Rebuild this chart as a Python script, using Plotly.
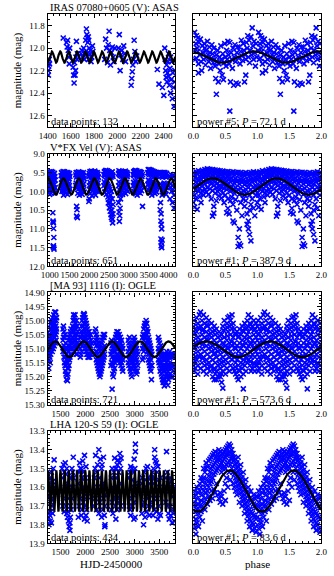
import numpy as np
import plotly.graph_objects as go

# ---------------- chart values ----------------
star_names = ["IRAS 07080+0605 (V): ASAS", "V*FX Vel (V): ASAS",
              "[MA 93] 1116 (I): OGLE", "LHA 120-S 59 (I): OGLE"]
n_points = [132, 651, 721, 434]
power_rank = [5, 1, 1, 1]
periods = [72.1, 387.9, 573.6, 83.6]
# fitted sine model: mean, semi-amplitude, phase of faintest point, epoch of phase 0
fit_mean = [12.08, 9.87, 15.102, 13.62]
fit_amp = [0.05, 0.22, 0.028, 0.11]
fit_phase_faint = [0.45, 0.80, 0.70, 0.07]
fit_epoch = [1367.6, 843.6, 1276.0, 1200.0]

time_ranges = [[1400, 2500], [950, 4170], [1240, 3820], [1240, 3820]]
mag_ranges = [[12.7, 11.7], [12.0, 9.0], [15.30, 14.90], [13.9, 13.3]]
time_dtick = [200, 500, 500, 500]
time_minor = [50, 100, 100, 100]
mag_tick0 = [11.8, 9.0, 14.9, 13.3]
mag_dtick = [0.2, 0.5, 0.05, 0.1]
mag_minor = [0.05, 0.1, 0.01, 0.02]
mag_format = [".1f", ".1f", ".2f", ".1f"]

# ---- IRAS 07080+0605: time series (HJD-2450000, mag) ----
iras_time = [
    (1401, [12.12]), (1403, [12.2]), (1406, [12.24]), (1409, [12.16]), (1413, [12.1]), (1416, [12.14]),
    (1534, [11.91]),
    (1562, [11.95]), (1568, [11.99]), (1572, [11.93]), (1578, [12.02]), (1582, [12.08]), (1586, [12.14]), (1590, [12.0]),
    (1620, [12.17]), (1624, [12.24]), (1628, [12.31]), (1632, [12.13]), (1636, [12.24]), (1640, [12.2]),
    (1644, [12.08]), (1648, [11.94]), (1652, [12.1]), (1656, [12.05]),
    (1688, [12.05]), (1695, [12.02]), (1702, [12.08]), (1710, [12.0]), (1716, [12.1]), (1722, [12.04]),
    (1728, [11.93, 12.06]), (1734, [11.83]), (1738, [11.88]), (1742, [11.91, 12.05]), (1746, [11.95]),
    (1750, [11.9]), (1754, [11.93, 12.1]), (1758, [12.0]), (1762, [12.05]), (1768, [12.02]), (1774, [12.12]),
    (1780, [12.08]), (1786, [11.98]), (1790, [12.03]),
    (1892, [12.1]), (1900, [11.92]), (1908, [12.0]), (1916, [12.13]), (1922, [11.97]), (1930, [11.85]),
    (1936, [12.02]), (1942, [12.15]), (1950, [12.04]), (1958, [11.99]), (1965, [12.08]), (1972, [12.12]), (1980, [12.0]),
    (2010, [12.0]), (2018, [11.88]), (2025, [12.2]), (2032, [12.06]), (2040, [12.02]), (2048, [12.1]),
    (2056, [11.98]), (2064, [12.05]), (2072, [12.12]),
    (2120, [12.33]), (2125, [12.27]), (2130, [12.21]), (2135, [12.15]), (2140, [12.1]), (2146, [11.93]),
    (2152, [12.03]), (2160, [12.12]), (2168, [12.07]),
    (2346, [12.19]), (2360, [12.32]), (2390, [12.35]), (2402, [12.42]),
    (2410, [12.0]), (2414, [12.1]), (2418, [12.2]), (2422, [12.26]), (2426, [12.15]), (2430, [12.3]),
    (2434, [12.22]), (2438, [12.12]), (2442, [12.05]), (2446, [12.25]), (2450, [12.33]), (2455, [12.18]),
    (2460, [12.4, 12.08]), (2465, [12.28]), (2470, [12.12]), (2475, [12.45]), (2480, [12.22]), (2485, [12.35]),
    (2490, [12.52]), (2494, [12.3]), (2497, [12.2]),
]
# ---- IRAS 07080+0605: folded (phase 0..1, mag) ----
iras_phase = [
    (0.01, [12.02]), (0.02, [11.86]), (0.03, [12.1]), (0.04, [11.96]), (0.05, [11.89, 12.09]), (0.06, [12.0]),
    (0.07, [11.91, 12.03]), (0.08, [12.14, 12.22]), (0.09, [11.95]), (0.1, [12.06]), (0.11, [11.92]),
    (0.12, [12.12]), (0.13, [12.2]), (0.14, [11.98]), (0.15, [12.04]), (0.16, [12.1]), (0.17, [11.96]),
    (0.18, [12.0]), (0.19, [12.15]), (0.2, [12.02]), (0.21, [12.08]), (0.22, [11.94]), (0.23, [12.06]),
    (0.24, [12.12]), (0.25, [11.99]), (0.26, [12.04]), (0.27, [12.18]), (0.28, [12.09]), (0.29, [11.97]),
    (0.3, [12.05]), (0.31, [12.13]), (0.32, [12.0]), (0.33, [12.1]), (0.34, [12.16]), (0.35, [12.27]),
    (0.36, [12.41, 12.06]), (0.37, [12.12]), (0.38, [12.02]), (0.39, [12.3]), (0.4, [12.14]), (0.41, [12.08]),
    (0.42, [12.2]), (0.43, [11.98]), (0.44, [12.1]), (0.45, [12.24]), (0.46, [12.05]), (0.47, [12.28]),
    (0.48, [12.13]), (0.49, [11.96]), (0.5, [12.08]), (0.51, [12.16]), (0.52, [12.02]), (0.53, [12.1]),
    (0.54, [11.94]), (0.55, [12.06]), (0.56, [12.14]), (0.57, [12.56, 11.95]), (0.58, [12.3]), (0.59, [12.04]),
    (0.6, [12.1]), (0.61, [12.18]), (0.62, [12.0]), (0.63, [12.33]), (0.64, [12.08]), (0.65, [11.97]),
    (0.66, [12.12]), (0.67, [12.31]), (0.68, [12.04]), (0.69, [11.99]), (0.7, [12.32]), (0.71, [12.09]),
    (0.72, [11.99]), (0.73, [12.14]), (0.74, [12.03]), (0.75, [11.93]), (0.76, [12.07]), (0.77, [12.11]),
    (0.78, [11.96]), (0.79, [12.02]), (0.8, [12.3]), (0.81, [12.06]), (0.82, [12.24, 12.1]), (0.83, [11.95]),
    (0.84, [12.0]), (0.85, [11.89]), (0.86, [12.08]), (0.87, [11.93]), (0.88, [12.13]), (0.89, [12.02]),
    (0.9, [11.9]), (0.91, [12.06]), (0.92, [11.82]), (0.93, [11.98]), (0.94, [12.1]), (0.95, [11.94]),
    (0.96, [12.04]), (0.97, [12.16]), (0.98, [11.96]), (0.99, [12.08]),
]

# ---- V* FX Vel: time series ----
fxvel_time = [
    (960, [9.55, 9.9]), (970, [9.72, 10.02]), (980, [9.5, 9.8]), (990, [9.62, 9.95]), (1000, [9.48, 9.75, 10.08]),
    (1010, [9.66, 9.88]), (1020, [9.52, 9.8]), (1030, [9.6, 9.93]), (1040, [9.47, 9.7, 10.05]), (1050, [9.58, 9.85]),
    (1060, [9.5, 9.76]), (1070, [9.64, 9.98]), (1080, [9.49, 9.72, 10.57]), (1085, [10.79, 10.82]),
    (1090, [9.6, 9.9, 11.47]), (1095, [10.84, 11.45]), (1100, [9.55, 10.99, 11.5]), (1105, [11.23]),
    (1110, [9.68, 9.96, 11.54]), (1120, [9.52, 9.82]), (1130, [9.6, 10.04]), (1140, [9.7, 9.9]),
    (1290, [9.58, 9.88]), (1300, [9.5, 9.78]), (1310, [9.66, 10.0]), (1320, [9.52, 9.84]), (1330, [9.6, 9.95]),
    (1340, [9.47, 9.72]), (1350, [9.56, 9.9, 10.1]), (1360, [9.5, 9.8]), (1370, [9.62, 9.98]), (1380, [9.48, 9.75]),
    (1390, [9.58, 9.86]), (1400, [9.53, 9.7, 10.05]), (1410, [9.6, 9.92]), (1420, [9.5, 9.78]), (1430, [9.64, 9.96]),
    (1440, [9.52, 9.82]), (1450, [9.58, 10.08]), (1460, [9.5, 9.74]), (1470, [9.62, 9.9]), (1480, [9.55, 9.8]),
    (1490, [9.66, 10.0]), (1500, [9.52, 9.85]), (1510, [9.6, 9.94]),
    (1660, [9.56, 9.84]), (1670, [9.5, 9.78]), (1680, [9.62, 10.4, 10.66]), (1690, [9.5, 9.9, 10.49]),
    (1700, [9.58, 10.7]), (1710, [9.52, 9.82, 10.05]), (1720, [9.6, 9.95]), (1730, [9.48, 9.76]), (1740, [9.56, 9.88]),
    (1750, [9.5, 10.1]), (1760, [9.62, 9.8]), (1770, [9.54, 9.92]), (1780, [9.6, 9.75]), (1790, [9.5, 10.0]),
    (1800, [9.58, 9.86]), (1810, [9.52, 9.78]), (1820, [9.64, 10.08]), (1830, [9.55, 9.9]), (1840, [9.6, 9.82]),
    (1850, [9.5, 9.96]), (1860, [9.58, 9.8]), (1870, [9.66, 10.02]),
    (1990, [9.6, 10.27]), (2000, [9.52, 9.85, 10.2]), (2010, [9.58, 9.95]), (2020, [9.47, 9.76]), (2030, [9.55, 10.05]),
    (2040, [9.5, 9.82]), (2050, [9.6, 9.94]), (2060, [9.46, 9.72]), (2070, [9.55, 10.12]), (2080, [9.5, 9.8]),
    (2090, [9.62, 9.98]), (2100, [9.48, 9.74]), (2110, [9.56, 9.9]), (2120, [9.5, 10.04]), (2130, [9.6, 9.84]),
    (2140, [9.46, 9.76]), (2150, [9.55, 9.96]), (2160, [9.5, 10.1]), (2170, [9.62, 9.8]), (2180, [9.52, 9.92]),
    (2190, [9.58, 9.74]), (2200, [9.5, 10.0]), (2210, [9.6, 9.86]), (2220, [9.54, 9.78]), (2230, [9.62, 9.98]),
    (2370, [9.55, 9.85]), (2380, [9.48, 9.75]), (2390, [9.58, 10.02]), (2400, [9.46, 9.8]), (2410, [9.55, 9.92]),
    (2420, [9.44, 9.7]), (2430, [9.52, 10.08]), (2440, [9.47, 9.78]), (2450, [9.56, 9.95]), (2460, [9.45, 9.82]),
    (2470, [9.6, 10.15]), (2480, [9.5, 9.86, 10.31]), (2490, [9.56, 10.05]), (2500, [9.48, 9.9, 10.2]),
    (2510, [9.58, 10.44]), (2520, [9.5, 9.95, 10.3]), (2530, [9.6, 10.53]), (2540, [9.52, 10.1, 10.4]),
    (2550, [9.62, 10.62]), (2560, [9.5, 10.0, 10.7]), (2570, [9.58, 10.5]), (2580, [9.48, 10.75, 10.2]),
    (2590, [9.56, 10.84]), (2600, [9.6, 10.6, 10.35]),
    (2740, [9.52, 9.85, 10.3]), (2750, [9.45, 9.75, 10.55]), (2760, [9.55, 9.95, 10.8]), (2770, [9.5, 10.1, 10.65]),
    (2780, [9.58, 9.8, 10.45]), (2790, [9.47, 9.9, 10.2]), (2800, [9.56, 10.05]), (2810, [9.5, 9.78]),
    (2820, [9.6, 9.96]), (2830, [9.48, 9.85]), (2840, [9.55, 10.08]), (2850, [9.5, 9.76]), (2860, [9.62, 9.92]),
    (2870, [9.48, 9.82]), (2880, [9.56, 10.02]), (2890, [9.5, 9.74]), (2900, [9.6, 9.9]), (2910, [9.46, 9.8]),
    (2920, [9.55, 10.06]), (2930, [9.5, 9.86]), (2940, [9.58, 9.76]), (2950, [9.5, 9.96]), (2960, [9.6, 9.84]),
    (2970, [9.54, 10.0]),
    (3110, [9.55, 9.85]), (3120, [9.48, 9.76]), (3130, [9.58, 10.0]), (3140, [9.46, 9.8]), (3150, [9.55, 9.94]),
    (3160, [9.44, 9.72]), (3170, [9.52, 10.06]), (3180, [9.47, 9.78]), (3190, [9.56, 9.9]), (3200, [9.45, 9.82]),
    (3210, [9.6, 10.1]), (3220, [9.5, 9.86]), (3230, [9.56, 9.96]), (3240, [9.48, 9.75]), (3250, [9.58, 10.02]),
    (3260, [9.5, 9.84]), (3270, [9.6, 9.92]), (3280, [9.47, 9.78]), (3290, [9.55, 10.05]), (3300, [9.5, 9.88]),
    (3310, [9.58, 9.76]), (3320, [9.5, 9.98]), (3330, [9.6, 9.85]), (3345, [9.55, 10.4]),
    (3480, [9.5, 9.82]), (3490, [9.42, 9.7]), (3500, [9.52, 9.96]), (3510, [9.44, 9.78]), (3520, [9.55, 9.9]),
    (3530, [9.42, 9.72]), (3540, [9.5, 10.04]), (3550, [9.45, 9.8]), (3560, [9.56, 9.92]), (3570, [9.44, 9.76]),
    (3580, [9.52, 10.1]), (3590, [9.48, 9.84]), (3600, [9.58, 9.95]), (3610, [9.46, 9.74]), (3620, [9.54, 10.0]),
    (3630, [9.5, 9.82]), (3640, [9.6, 9.9]), (3650, [9.48, 9.78]), (3660, [9.55, 10.06]), (3670, [9.5, 9.86]),
    (3680, [9.6, 9.96]), (3690, [9.52, 9.8]), (3700, [9.58, 10.02]), (3710, [9.5, 9.88]),
    (3790, [9.55, 9.9, 10.49]), (3800, [9.5, 9.8, 10.3]), (3810, [9.6, 10.79, 11.27]), (3815, [10.6, 11.45]),
    (3820, [9.52, 10.88, 11.36]), (3830, [9.58, 11.0, 11.5]), (3840, [9.5, 10.1, 11.3]), (3850, [9.62, 9.95]),
    (3860, [9.55, 9.85]), (3870, [9.5, 10.05]), (3880, [9.6, 9.9]), (3890, [9.52, 9.78]), (3900, [9.58, 10.0]),
    (3910, [9.5, 9.84]), (3920, [9.6, 9.96]), (3930, [9.55, 9.8]), (3940, [9.62, 10.08]), (3950, [9.52, 9.88]),
    (4040, [9.6, 9.9, 10.2]), (4060, [9.55, 9.8]), (4080, [9.65, 10.0]), (4100, [9.58, 9.85, 10.3]),
    (4120, [9.6, 9.95]), (4140, [9.7, 10.1, 10.45]),
]
fxvel_phase = [
    (0.00, [9.5, 9.7, 9.9, 10.05, 10.3]), (0.02, [9.55, 9.62, 9.85, 10.1, 10.42]), (0.04, [9.48, 9.75, 9.95, 10.2]),
    (0.06, [9.52, 9.66, 9.88, 10.48]), (0.08, [9.45, 9.7, 9.8, 10.0]), (0.10, [9.5, 9.6, 9.92, 10.15]),
    (0.12, [9.47, 9.68, 9.78, 10.05, 10.3]), (0.14, [9.44, 9.58, 9.85, 9.98]), (0.16, [9.49, 9.63, 9.74, 10.1]),
    (0.18, [9.42, 9.55, 9.8, 9.95]), (0.20, [9.46, 9.6, 9.7, 10.02]), (0.22, [9.4, 9.52, 9.76, 9.9]),
    (0.24, [9.44, 9.58, 9.68, 10.08]), (0.26, [9.41, 9.5, 9.72, 9.93]), (0.28, [9.45, 9.62, 9.8, 10.2]),
    (0.30, [9.42, 9.55, 9.7, 9.98, 10.66]), (0.32, [9.46, 9.6, 9.85, 10.58, 10.4]), (0.34, [9.43, 9.52, 9.75, 10.05]),
    (0.36, [9.47, 9.65, 9.9, 10.25]), (0.38, [9.44, 9.58, 9.78, 10.0]), (0.40, [9.48, 9.62, 9.86, 10.12]),
    (0.42, [9.45, 9.55, 9.72, 9.95]), (0.44, [9.5, 9.66, 9.88, 10.18]), (0.46, [9.46, 9.6, 9.8, 10.05]),
    (0.48, [9.52, 9.7, 9.92, 10.3]), (0.50, [9.48, 9.63, 9.85, 10.1]), (0.52, [9.5, 9.72, 9.95, 10.57]),
    (0.54, [9.47, 9.6, 9.82, 10.2, 10.45]), (0.56, [9.53, 9.68, 9.9, 10.6]), (0.58, [9.49, 9.75, 10.0, 10.25]),
    (0.60, [9.52, 9.65, 9.88, 10.15]), (0.62, [9.48, 9.7, 9.96, 10.79, 10.35]), (0.64, [9.55, 9.78, 10.05, 10.84]),
    (0.66, [9.5, 9.66, 9.9, 10.22]), (0.68, [9.53, 9.74, 10.0, 10.5]), (0.70, [9.49, 9.7, 9.95, 11.23, 11.47]),
    (0.72, [9.55, 9.8, 10.08, 11.4, 11.0]), (0.74, [9.5, 9.68, 9.92, 11.45, 10.3]), (0.76, [9.56, 9.76, 10.05, 10.65]),
    (0.78, [9.52, 9.7, 9.98, 10.2]), (0.80, [9.58, 9.82, 10.1, 10.4]), (0.82, [9.5, 9.72, 9.95, 10.25]),
    (0.84, [9.55, 9.78, 10.05, 10.88, 10.6]), (0.86, [9.52, 9.7, 9.9, 10.79, 11.0]),
    (0.88, [9.57, 9.8, 10.1, 11.15, 10.5]), (0.90, [9.5, 9.68, 9.95, 10.35, 11.32]), (0.92, [9.54, 9.75, 10.02, 10.2]),
    (0.94, [9.48, 9.66, 9.88, 10.45]), (0.96, [9.53, 9.72, 9.95, 10.65]), (0.98, [9.5, 9.64, 9.86, 10.1]),
]

# ---- [MA 93] 1116: time series ----
ma93_time = [
    (1262, [15.17, 15.12, 15.08]), (1272, [15.14, 15.1, 15.05]), (1282, [15.11, 15.07, 15.13]), (1292, [15.05, 15.09, 15.15]),
    (1302, [15.03, 15.08, 15.12]), (1312, [15.06, 15.1, 15.01]), (1322, [15.0, 15.04, 15.09]), (1332, [15.02, 15.07, 15.11]),
    (1342, [14.99, 15.03, 15.08]), (1352, [15.01, 15.05, 15.1]), (1362, [14.98, 15.02, 15.06]), (1372, [15.0, 15.04, 15.09]),
    (1382, [14.97, 15.01, 15.06]), (1392, [14.99, 15.03, 15.08]), (1402, [14.97, 15.02, 15.05]), (1412, [15.0, 15.04, 15.07]),
    (1420, [14.99, 15.03]),
    (1550, [15.03, 15.07, 15.11]), (1560, [15.02, 15.06, 15.1]), (1570, [15.04, 15.09, 15.13]), (1580, [15.06, 15.1, 15.15]),
    (1590, [15.05, 15.11, 15.16]), (1600, [15.08, 15.13, 15.18]), (1610, [15.1, 15.15, 15.19]), (1620, [15.12, 15.16, 15.21]),
    (1630, [15.1, 15.14, 15.196]), (1640, [15.13, 15.17, 15.214]), (1650, [15.11, 15.15, 15.19]), (1660, [15.09, 15.13, 15.17]),
    (1670, [15.07, 15.11, 15.16]), (1680, [15.06, 15.1, 15.14]), (1690, [15.05, 15.09, 15.13]), (1700, [15.04, 15.08, 15.12]),
    (1712, [15.03, 15.07, 15.1]),
    (1745, [15.02, 15.06, 15.1]), (1755, [15.0, 15.04, 15.08]), (1765, [14.98, 15.03, 15.07]), (1775, [14.99, 15.04, 15.09]),
    (1785, [15.0, 15.05, 15.11]), (1795, [14.98, 15.02, 15.07]), (1805, [15.01, 15.06, 15.1]), (1815, [15.03, 15.07, 15.12]),
    (1825, [15.0, 15.05, 15.09]), (1835, [15.02, 15.08, 15.12]), (1845, [15.04, 15.09]),
    (1900, [15.06, 15.1, 15.13]), (1912, [15.04, 15.08, 15.12]), (1924, [15.02, 15.06, 15.11]), (1936, [15.0, 15.05, 15.09]),
    (1948, [14.99, 15.04, 15.08]), (1960, [14.98, 15.02, 15.07]), (1972, [14.975, 15.01, 15.06]), (1984, [14.98, 15.03, 15.07]),
    (1996, [14.99, 15.04, 15.09]), (2008, [15.0, 15.05, 15.1]), (2020, [15.01, 15.06, 15.11]), (2032, [15.02, 15.07, 15.12]),
    (2044, [15.03, 15.08, 15.12]), (2056, [15.04, 15.09, 15.13]), (2068, [15.05, 15.1, 15.13]), (2080, [15.04, 15.08, 15.12]),
    (2092, [15.06, 15.1, 15.13]), (2104, [15.05, 15.09, 15.12]), (2116, [15.07, 15.11]), (2128, [15.08, 15.12]),
    (2200, [15.04, 15.08, 15.12]), (2212, [15.03, 15.07, 15.11]), (2224, [15.05, 15.09, 15.14]), (2236, [15.06, 15.11, 15.15]),
    (2248, [15.07, 15.12, 15.16]), (2260, [15.08, 15.13, 15.17]), (2272, [15.09, 15.14, 15.18]), (2284, [15.1, 15.15, 15.19]),
    (2296, [15.11, 15.16, 15.2]), (2308, [15.1, 15.15, 15.19]), (2320, [15.09, 15.14, 15.18]), (2332, [15.08, 15.13, 15.17]),
    (2344, [15.07, 15.12, 15.16]), (2356, [15.06, 15.11, 15.15]), (2368, [15.05, 15.1, 15.14]), (2380, [15.06, 15.1, 15.13]),
    (2392, [15.05, 15.09, 15.12]),
    (2520, [15.08, 15.12, 15.16]), (2532, [15.07, 15.11, 15.15]), (2544, [15.09, 15.13, 15.244]), (2556, [15.1, 15.15, 15.19]),
    (2568, [15.11, 15.16, 15.2]), (2580, [15.1, 15.14, 15.18]), (2592, [15.09, 15.13, 15.17]), (2604, [15.07, 15.11, 15.15]),
    (2616, [15.06, 15.1, 15.14]), (2628, [15.05, 15.09, 15.13]), (2640, [15.04, 15.08, 15.12]), (2652, [15.05, 15.09, 15.13]),
    (2664, [15.04, 15.08, 15.12]), (2676, [15.06, 15.1, 15.14]), (2688, [15.05, 15.09, 15.13]), (2700, [15.07, 15.11, 15.15]),
    (2712, [15.06, 15.1, 15.14]), (2724, [15.08, 15.12, 15.16]), (2736, [15.07, 15.11, 15.15]), (2748, [15.09, 15.13, 15.17]),
    (2760, [15.1, 15.14, 15.18]),
    (2870, [15.07, 15.11, 15.15]), (2882, [15.08, 15.12, 15.16]), (2894, [15.06, 15.1, 15.14]), (2906, [15.09, 15.13, 15.17]),
    (2918, [15.1, 15.14, 15.18]), (2930, [15.11, 15.15, 15.19]), (2942, [15.1, 15.14, 15.2]), (2954, [15.09, 15.13, 15.17]),
    (2966, [15.08, 15.12, 15.16]), (2978, [15.07, 15.11, 15.15]), (2990, [15.06, 15.1, 15.14]), (3002, [15.07, 15.11, 15.16]),
    (3014, [15.08, 15.12, 15.17]), (3026, [15.09, 15.13, 15.18]), (3038, [15.1, 15.14, 15.19]), (3050, [15.11, 15.15, 15.18]),
    (3060, [15.12, 15.16]),
    (3160, [15.06, 15.1, 15.14]), (3172, [15.05, 15.09, 15.13]), (3184, [15.03, 15.07, 15.11]), (3196, [15.02, 15.06, 15.1]),
    (3208, [15.01, 15.05, 15.09]), (3220, [15.02, 15.06, 15.1]), (3232, [15.0, 15.04, 15.08]), (3244, [15.01, 15.05, 15.09]),
    (3256, [15.03, 15.07, 15.11]), (3268, [15.04, 15.08, 15.12]), (3280, [15.06, 15.1, 15.14]), (3292, [15.07, 15.11, 15.15]),
    (3304, [15.08, 15.12, 15.16]), (3316, [15.09, 15.13, 15.17]), (3328, [15.1, 15.14, 15.18]), (3340, [15.11, 15.16, 15.21]),
    (3350, [15.12, 15.16]),
    (3480, [15.06, 15.1, 15.14]), (3492, [15.07, 15.11, 15.15]), (3504, [15.08, 15.12, 15.16]), (3516, [15.1, 15.14, 15.18]),
    (3528, [15.09, 15.13, 15.17]), (3540, [15.11, 15.15, 15.19]), (3552, [15.12, 15.16, 15.2]), (3564, [15.13, 15.17, 15.21]),
    (3576, [15.14, 15.18, 15.22]), (3588, [15.12, 15.16, 15.214]), (3600, [15.13, 15.17, 15.232]), (3612, [15.14, 15.18, 15.21]),
    (3624, [15.12, 15.16, 15.2]), (3636, [15.13, 15.17, 15.22]), (3648, [15.11, 15.15, 15.19]), (3660, [15.12, 15.16, 15.2]),
    (3672, [15.14, 15.18, 15.23]), (3684, [15.13, 15.17, 15.21]), (3696, [15.12, 15.16, 15.2]), (3708, [15.11, 15.15, 15.19]),
    (3720, [15.12, 15.16, 15.2]), (3740, [15.13, 15.17]), (3760, [15.12, 15.16, 15.2]), (3780, [15.13, 15.18]),
    (3800, [15.12, 15.16]),
]
ma93_phase = [
    (0.00, [15.02, 15.07, 15.12, 15.16]), (0.013, [15.0, 15.05, 15.1, 15.15, 15.18]), (0.031, [15.03, 15.08, 15.13, 15.17]),
    (0.052, [14.99, 15.04, 15.09, 15.14]), (0.07, [15.01, 15.06, 15.11, 15.16, 15.19]), (0.094, [14.98, 15.03, 15.08, 15.13]),
    (0.112, [14.97, 15.02, 15.07, 15.12, 15.17]), (0.135, [15.0, 15.05, 15.1, 15.15]), (0.158, [14.98, 15.03, 15.08, 15.13, 15.18]),
    (0.176, [15.01, 15.06, 15.11, 15.16]), (0.203, [14.99, 15.04, 15.09, 15.14, 15.19]), (0.219, [15.02, 15.07, 15.12, 15.17]),
    (0.241, [15.0, 15.05, 15.1, 15.15]), (0.262, [15.03, 15.08, 15.13, 15.18]), (0.284, [15.01, 15.06, 15.11, 15.16]),
    (0.302, [15.04, 15.09, 15.14, 15.2]), (0.327, [15.02, 15.07, 15.12, 15.17, 15.21]), (0.343, [15.05, 15.1, 15.15, 15.19]),
    (0.361, [15.03, 15.08, 15.13, 15.18, 15.21]), (0.385, [15.06, 15.11, 15.16, 15.2]), (0.404, [15.04, 15.09, 15.14, 15.19]),
    (0.423, [15.07, 15.12, 15.17, 15.2]), (0.442, [15.05, 15.1, 15.15, 15.19, 15.22]), (0.461, [15.02, 15.08, 15.13, 15.18, 15.24]),
    (0.483, [15.0, 15.06, 15.11, 15.16]), (0.502, [15.03, 15.09, 15.14, 15.19]), (0.524, [15.01, 15.07, 15.12, 15.17]),
    (0.541, [14.99, 15.04, 15.1, 15.15]), (0.563, [14.985, 15.02, 15.08, 15.13, 15.18]), (0.582, [15.0, 15.05, 15.11, 15.16]),
    (0.604, [14.98, 15.03, 15.09, 15.14]), (0.622, [15.01, 15.06, 15.12, 15.17]), (0.643, [15.03, 15.08, 15.13, 15.18]),
    (0.661, [15.05, 15.1, 15.15, 15.19]), (0.684, [15.04, 15.09, 15.14, 15.2]), (0.702, [15.06, 15.11, 15.16, 15.21]),
    (0.721, [15.03, 15.08, 15.13, 15.18]), (0.743, [15.05, 15.1, 15.15, 15.2]), (0.762, [15.02, 15.07, 15.12, 15.17]),
    (0.781, [15.04, 15.09, 15.14, 15.19, 15.243]), (0.804, [15.01, 15.06, 15.11, 15.16]), (0.823, [15.03, 15.08, 15.13, 15.18]),
    (0.842, [15.0, 15.05, 15.1, 15.15]), (0.861, [14.98, 15.04, 15.09, 15.14]), (0.883, [15.01, 15.06, 15.11, 15.16]),
    (0.902, [14.99, 15.03, 15.08, 15.13, 15.18]), (0.921, [15.02, 15.07, 15.12, 15.17]), (0.944, [15.0, 15.05, 15.1, 15.15]),
    (0.962, [15.03, 15.08, 15.13, 15.18]), (0.981, [15.01, 15.06, 15.11, 15.16]),
    (0.025, [15.045, 15.095, 15.145]), (0.083, [15.025, 15.075, 15.125]), (0.147, [15.035, 15.085, 15.135]),
    (0.211, [15.015, 15.065, 15.155]), (0.273, [15.045, 15.095, 15.165]), (0.335, [15.035, 15.115, 15.175]),
    (0.414, [15.055, 15.105, 15.155]), (0.472, [15.035, 15.085, 15.145]), (0.533, [15.025, 15.055, 15.095]),
    (0.593, [15.015, 15.075, 15.125]), (0.653, [15.045, 15.095, 15.165]), (0.712, [15.055, 15.125, 15.175]),
    (0.772, [15.035, 15.085, 15.155]), (0.832, [15.025, 15.065, 15.135]), (0.894, [15.015, 15.085, 15.145]),
    (0.953, [15.035, 15.095, 15.155]),
]

# ---- LHA 120-S 59: time series ----
lha_time = [
    (1255, [13.62, 13.76]), (1265, [13.58, 13.8]), (1275, [13.65, 13.73]), (1285, [13.55, 13.75]), (1295, [13.6, 13.78]),
    (1305, [13.68, 13.73]), (1315, [13.52, 13.79]), (1325, [13.63, 13.7]), (1340, [13.57, 13.74]), (1355, [13.5, 13.66]),
    (1371, [13.454, 13.6]),
    (1530, [13.5, 13.62]), (1545, [13.55, 13.7]), (1560, [13.48, 13.66]), (1575, [13.52, 13.73]), (1595, [13.47, 13.6]),
    (1610, [13.53, 13.7]), (1625, [13.5, 13.74]), (1640, [13.58, 13.76]), (1650, [13.62, 13.73]), (1660, [13.66, 13.78]),
    (1675, [13.6, 13.81]), (1690, [13.79, 13.83]), (1700, [13.7, 13.76]), (1715, [13.55, 13.72]), (1730, [13.5, 13.66]),
    (1745, [13.52, 13.6]), (1758, [13.44, 13.55]),
    (1860, [13.58, 13.76]), (1875, [13.52, 13.7]), (1887, [13.47, 13.62]), (1900, [13.5, 13.66]), (1920, [13.5, 13.75]),
    (1935, [13.55, 13.72]), (1950, [13.46, 13.6]), (1960, [13.52, 13.68]), (1985, [13.43, 13.77]), (2000, [13.55, 13.7]),
    (2015, [13.49, 13.75]), (2030, [13.6, 13.72]), (2040, [13.65, 13.78]),
    (2185, [13.55, 13.7]), (2200, [13.5, 13.66]), (2210, [13.43, 13.62]), (2230, [13.52, 13.72]), (2250, [13.48, 13.6]),
    (2275, [13.4, 13.74]), (2290, [13.55, 13.68]), (2305, [13.45, 13.62]), (2330, [13.5, 13.76]), (2340, [13.48, 13.6]),
    (2355, [13.58, 13.72]), (2370, [13.44, 13.66]), (2385, [13.6, 13.75]), (2395, [13.81, 13.7]), (2400, [13.8, 13.64]),
    (2530, [13.55, 13.72]), (2545, [13.5, 13.68]), (2560, [13.6, 13.74]), (2580, [13.52, 13.66]), (2595, [13.445, 13.62]),
    (2610, [13.5, 13.7]), (2620, [13.55, 13.77]), (2630, [13.5, 13.64]), (2645, [13.48, 13.72]), (2660, [13.455, 13.6]),
    (2675, [13.52, 13.68]), (2690, [13.47, 13.66]), (2700, [13.42, 13.58]), (2715, [13.5, 13.7]), (2725, [13.445, 13.62]),
    (2890, [13.55, 13.7]), (2905, [13.52, 13.72]), (2920, [13.49, 13.75]), (2940, [13.5, 13.66]), (2955, [13.56, 13.7]),
    (2970, [13.52, 13.64]), (2985, [13.6, 13.77]), (2990, [13.45, 13.68]), (3005, [13.5, 13.62]), (3010, [13.76, 13.58]),
    (3015, [13.37, 13.41]),
    (3145, [13.58, 13.74]), (3160, [13.55, 13.7]), (3180, [13.8, 13.62]), (3195, [13.52, 13.68]), (3210, [13.56, 13.76]),
    (3230, [13.5, 13.65]), (3240, [13.6, 13.73]), (3260, [13.49, 13.66]), (3280, [13.55, 13.7]), (3300, [13.58, 13.75]),
    (3345, [13.55, 13.7]), (3360, [13.52, 13.68]), (3370, [13.58, 13.75]), (3380, [13.5, 13.64]), (3395, [13.55, 13.72]),
    (3405, [13.4, 13.44]), (3420, [13.46, 13.62]), (3440, [13.47, 13.73]), (3455, [13.52, 13.66]), (3470, [13.49, 13.77]),
    (3485, [13.56, 13.7]), (3500, [13.6, 13.74]), (3520, [13.55, 13.75]),
    (3630, [13.55, 13.68]), (3645, [13.41, 13.6]), (3660, [13.52, 13.7]), (3680, [13.58, 13.74]), (3700, [13.62, 13.77]),
    (3715, [13.55, 13.7]), (3730, [13.6, 13.75]), (3745, [13.57, 13.72]), (3760, [13.65, 13.79]), (3780, [13.6, 13.74]),
    (3800, [13.62, 13.78]),
]
lha_phase = [
    (0.00, [13.7, 13.76, 13.65, 13.8]), (0.02, [13.73, 13.68, 13.82, 13.62]), (0.04, [13.77, 13.7, 13.64, 13.85]),
    (0.06, [13.72, 13.79, 13.66, 13.6]), (0.08, [13.74, 13.69, 13.81, 13.63]), (0.10, [13.7, 13.76, 13.62, 13.58]),
    (0.12, [13.67, 13.73, 13.6, 13.55]), (0.14, [13.64, 13.7, 13.57, 13.78]), (0.16, [13.62, 13.68, 13.55, 13.5]),
    (0.18, [13.6, 13.66, 13.52, 13.72]), (0.20, [13.58, 13.63, 13.5, 13.47]), (0.22, [13.56, 13.62, 13.49, 13.69]),
    (0.24, [13.54, 13.6, 13.46, 13.65]), (0.26, [13.52, 13.58, 13.45, 13.67]), (0.28, [13.5, 13.57, 13.44, 13.62]),
    (0.30, [13.49, 13.55, 13.43, 13.66]), (0.32, [13.48, 13.53, 13.42, 13.61]), (0.34, [13.47, 13.52, 13.41, 13.63]),
    (0.36, [13.46, 13.51, 13.44, 13.58]), (0.38, [13.45, 13.5, 13.42, 13.64]), (0.40, [13.44, 13.49, 13.4, 13.66]),
    (0.42, [13.45, 13.48, 13.41, 13.63, 13.68]), (0.44, [13.43, 13.47, 13.52, 13.65]), (0.46, [13.42, 13.46, 13.5, 13.69]),
    (0.48, [13.41, 13.45, 13.49, 13.62]), (0.50, [13.4, 13.44, 13.5, 13.58, 13.67]), (0.52, [13.39, 13.43, 13.48, 13.55]),
    (0.54, [13.38, 13.42, 13.47, 13.6]), (0.56, [13.37, 13.41, 13.46, 13.52]), (0.58, [13.38, 13.42, 13.48, 13.56]),
    (0.60, [13.4, 13.44, 13.5, 13.45]), (0.62, [13.42, 13.46, 13.52, 13.58]), (0.64, [13.44, 13.48, 13.53, 13.6]),
    (0.66, [13.45, 13.5, 13.55, 13.62]), (0.68, [13.47, 13.52, 13.57, 13.64]), (0.70, [13.49, 13.54, 13.59, 13.44]),
    (0.72, [13.51, 13.56, 13.61, 13.68]), (0.74, [13.53, 13.58, 13.63, 13.48]), (0.76, [13.55, 13.6, 13.65, 13.7]),
    (0.78, [13.57, 13.62, 13.67, 13.52]), (0.80, [13.59, 13.64, 13.69, 13.74]), (0.82, [13.61, 13.66, 13.71, 13.56]),
    (0.84, [13.63, 13.68, 13.73, 13.78]), (0.86, [13.64, 13.7, 13.75, 13.6]), (0.88, [13.66, 13.72, 13.77, 13.81]),
    (0.90, [13.67, 13.73, 13.78, 13.62]), (0.92, [13.68, 13.74, 13.79, 13.83]), (0.94, [13.69, 13.75, 13.8, 13.64]),
    (0.96, [13.7, 13.76, 13.82, 13.66]), (0.98, [13.71, 13.77, 13.84, 13.65]),
]

time_series = [iras_time, fxvel_time, ma93_time, lha_time]
phase_series = [iras_phase, fxvel_phase, ma93_phase, lha_phase]

# ---------------- figure ----------------
W, H = 334, 576
FONT = "Liberation Serif"
BLUE = "#0000ff"
LEFT = [40.5 / W, 174 / W]
RIGHT = [193 / W, 327 / W]
ROW_TOP = [9.5, 151.5, 292.5, 433.5]
ROW_H = 114.5


def expand(groups):
    xs, ys = [], []
    for x, ms in groups:
        for m in ms:
            xs.append(x)
            ys.append(m)
    return xs, ys


def model(phase, i):
    return fit_mean[i] + fit_amp[i] * np.cos(2 * np.pi * (np.asarray(phase) - fit_phase_faint[i]))


def axis_style(rng, dtick, minor, fmt, tick0=None):
    d = dict(range=rng, dtick=dtick, tickformat=fmt, ticks="inside", ticklen=4, tickwidth=1,
             tickcolor="black", showline=True, linecolor="black", linewidth=1.2, mirror="allticks",
             showgrid=False, zeroline=False, tickangle=0,
             tickfont=dict(family=FONT, size=9, color="black"),
             minor=dict(ticks="inside", ticklen=2, tickwidth=0.8, dtick=minor, tickcolor="black", showgrid=False))
    if tick0 is not None:
        d["tick0"] = tick0
    return d


fig = go.Figure()
layout = {}
annotations = []
marker = dict(symbol="x-thin", size=5, color=BLUE, line=dict(width=1.6, color=BLUE))

for i in range(4):
    top = ROW_TOP[i]
    ydom = [1 - (top + ROW_H) / H, 1 - top / H]
    xa_l, xa_r = 2 * i + 1, 2 * i + 2
    sfx_l = "" if xa_l == 1 else str(xa_l)
    sfx_r = str(xa_r)

    # time series
    tx, ty = expand(time_series[i])
    fig.add_trace(go.Scatter(x=tx, y=ty, mode="markers", marker=marker,
                             xaxis="x" + sfx_l, yaxis="y" + sfx_l, hoverinfo="skip"))
    tg = np.linspace(time_ranges[i][0], time_ranges[i][1], 4000)
    ph = np.mod((tg - fit_epoch[i]) / periods[i], 1.0)
    fig.add_trace(go.Scatter(x=tg, y=model(ph, i), mode="lines", line=dict(color="black", width=2.2),
                             xaxis="x" + sfx_l, yaxis="y" + sfx_l, hoverinfo="skip"))

    # folded
    px_, py_ = expand(phase_series[i])
    fig.add_trace(go.Scatter(x=px_ + [p + 1 for p in px_], y=py_ + py_, mode="markers", marker=marker,
                             xaxis="x" + sfx_r, yaxis="y" + sfx_r, hoverinfo="skip"))
    pg = np.linspace(0, 2, 500)
    fig.add_trace(go.Scatter(x=pg, y=model(pg, i), mode="lines", line=dict(color="black", width=2.2),
                             xaxis="x" + sfx_r, yaxis="y" + sfx_r, hoverinfo="skip"))

    xl = axis_style(time_ranges[i], time_dtick[i], time_minor[i], "d")
    xl.update(domain=LEFT, anchor="y" + sfx_l)
    yl = axis_style(mag_ranges[i], mag_dtick[i], mag_minor[i], mag_format[i], mag_tick0[i])
    yl.update(domain=ydom, anchor="x" + sfx_l)
    xr = axis_style([0, 2], 0.5, 0.1, ".1f", 0)
    xr.update(domain=RIGHT, anchor="y" + sfx_r)
    yr = axis_style(mag_ranges[i], mag_dtick[i], mag_minor[i], mag_format[i], mag_tick0[i])
    yr.update(domain=ydom, anchor="x" + sfx_r, showticklabels=False)

    layout["xaxis" + sfx_l] = xl
    layout["yaxis" + sfx_l] = yl
    layout["xaxis" + sfx_r] = xr
    layout["yaxis" + sfx_r] = yr

    annotations.append(dict(text=star_names[i], x=LEFT[0], y=ydom[1], xref="paper", yref="paper",
                            xanchor="left", yanchor="bottom", yshift=-2, showarrow=False,
                            font=dict(family=FONT, size=10.5, color="black")))
    annotations.append(dict(text="data points: %d" % n_points[i], x=LEFT[0] + 1.5 / W, y=ydom[0],
                            xref="paper", yref="paper", xanchor="left", yanchor="bottom", yshift=-2,
                            showarrow=False, font=dict(family=FONT, size=10.5, color="black")))
    annotations.append(dict(text="power #%d; <i>P</i> = %.1f d" % (power_rank[i], periods[i]),
                            x=RIGHT[0] + 1.5 / W, y=ydom[0], xref="paper", yref="paper",
                            xanchor="left", yanchor="bottom", yshift=-2, showarrow=False,
                            font=dict(family=FONT, size=10.5, color="black")))
    annotations.append(dict(text="magnitude (mag)", x=9 / W, y=(ydom[0] + ydom[1]) / 2, xref="paper",
                            yref="paper", xanchor="center", yanchor="middle", textangle=-90,
                            showarrow=False, font=dict(family=FONT, size=11, color="black")))

annotations.append(dict(text="HJD-2450000", x=(LEFT[0] + LEFT[1]) / 2, y=1 - 569 / H, xref="paper",
                        yref="paper", xanchor="center", yanchor="middle", showarrow=False,
                        font=dict(family=FONT, size=11, color="black")))
annotations.append(dict(text="phase", x=(RIGHT[0] + RIGHT[1]) / 2, y=1 - 569 / H, xref="paper",
                        yref="paper", xanchor="center", yanchor="middle", showarrow=False,
                        font=dict(family=FONT, size=11, color="black")))

fig.update_layout(**layout)
fig.update_layout(width=W, height=H, margin=dict(l=0, r=0, t=0, b=0), showlegend=False,
                  paper_bgcolor="white", plot_bgcolor="white", annotations=annotations,
                  font=dict(family=FONT, color="black"))

fig.write_html("out.html", config={"displayModeBar": False},
               post_script="document.body.style.margin='0';")
